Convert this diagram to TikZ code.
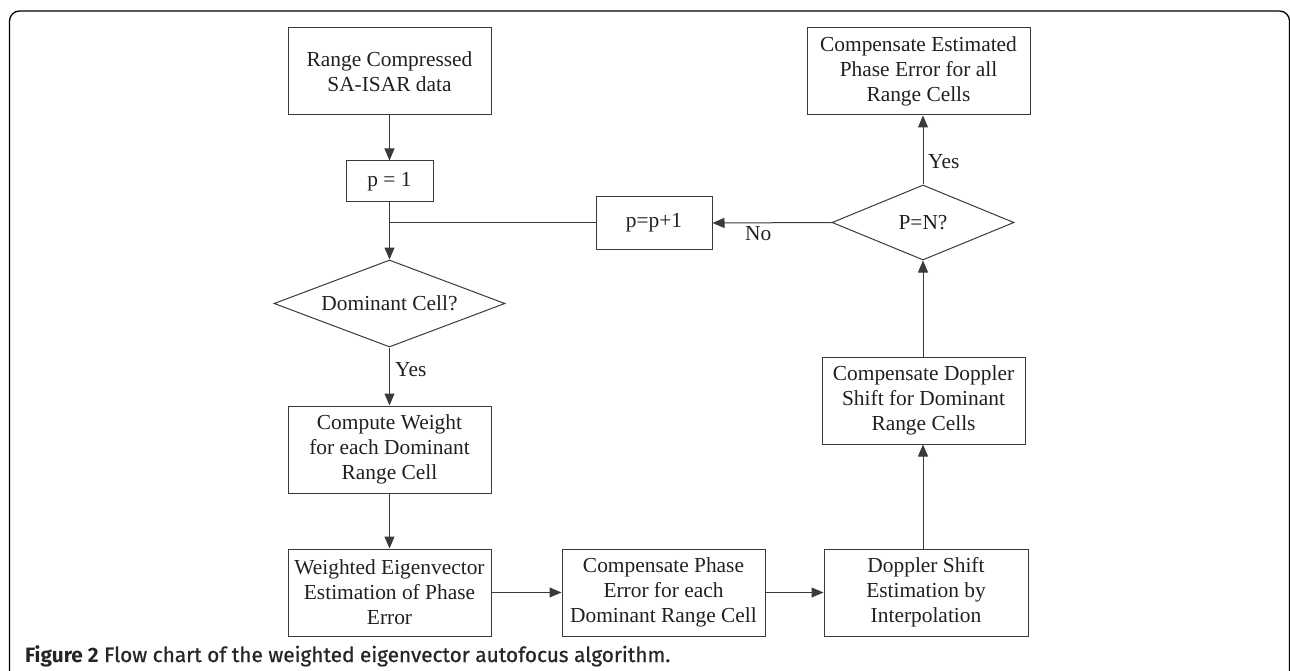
\documentclass[tikz,border=0pt]{standalone}
\usepackage{fontspec}
\setmainfont{Liberation Serif}
\newfontfamily\capfont[FakeBold=0.8]{Fira Sans}
\newfontfamily\capbold{Fira Sans Bold}
\usetikzlibrary{shapes.geometric,arrows.meta}
\definecolor{ink}{HTML}{231F20}
\definecolor{linec}{HTML}{3A3A3A}
\tikzset{
  x=1pt,y=-1pt,
  every node/.style={text=ink},
  box/.style={draw=linec,line width=1pt,rectangle,inner sep=0pt,align=center,
    font=\fontsize{21.4}{25}\selectfont,minimum width=203pt,minimum height=87pt},
  dia/.style={draw=linec,line width=1pt,diamond,inner sep=0pt,
    font=\fontsize{21.4}{25}\selectfont},
  lbl/.style={font=\fontsize{21.4}{25}\selectfont,inner sep=0pt},
  arr/.style={draw=linec,line width=1pt,-{Triangle[length=12pt,width=10pt]}},
  ln/.style={draw=linec,line width=1pt},
}
\begin{document}
\begin{tikzpicture}
\useasboundingbox (0,0) rectangle (1290,671);
\begin{scope}
\clip (0,0) rectangle (1290,671);
\draw[line width=1.3pt,rounded corners=10pt,draw=black] (9.5,11) rectangle (1289.5,720);
\end{scope}

\node[box] (b1) at (389.5,71.5) {Range Compressed\\SA-ISAR data};
\node[box,minimum width=87pt,minimum height=41pt] (p1) at (389.5,181.5) {p = 1};
\node[dia,aspect=2.65,minimum width=231pt,minimum height=87pt] (dom) at (389.5,303.5) {Dominant Cell?};
\node[box] (cw) at (389.5,449.5) {Compute Weight\\for each Dominant\\Range Cell};
\node[box] (we) at (389.5,592.5) {Weighted Eigenvector\\Estimation of Phase\\Error};
\node[box] (cp) at (663.5,592.5) {Compensate Phase\\Error for each\\Dominant Range Cell};
\node[box,minimum width=204pt] (ds) at (926,592.5) {Doppler Shift\\Estimation by\\Interpolation};
\node[box] (cd) at (923.5,400.5) {Compensate Doppler\\Shift for Dominant\\Range Cells};
\node[dia,aspect=2.43,minimum width=182pt,minimum height=75pt] (pn) at (923,222.5) {P=N?};
\node[box,minimum width=223pt] (ce) at (918.5,71.5) {Compensate Estimated\\Phase Error for all\\Range Cells};
\node[box,minimum width=116pt,minimum height=52pt] (pp) at (654,223) {p=p+1};

\coordinate (j) at (p1.south |- pp.west);

\draw[arr] (b1.south) -- (p1.north);
\draw[arr] (p1.south) -- (dom.north);
\draw[ln] (pp.west) -- (j);
\draw[arr] (pn.west) -- (pp.east);
\node[lbl,anchor=west] (no) at (745,234) {No};
\draw[arr] (dom.south) -- (cw.north);
\node[lbl,anchor=west] (y1) at (395,370) {Yes};
\draw[arr] (cw.south) -- (we.north);
\draw[arr] (we.east) -- (cp.west);
\draw[arr] (cp.east) -- (ds.west);
\draw[arr] (ds.north -| pn.south) -- (cd.south -| pn.south);
\draw[arr] (cd.north -| pn.south) -- (pn.south);
\draw[arr] (pn.north) -- (ce.south -| pn.north);
\node[lbl,anchor=west] (y2) at (928,162) {Yes};

\node[anchor=base west,inner sep=0pt,text=black!85,font=\capfont\fontsize{20.8}{24}\selectfont] (cap) at (25,662)
  {{\capbold Figure 2} Flow chart of the weighted eigenvector autofocus algorithm.};
\end{tikzpicture}
\end{document}
